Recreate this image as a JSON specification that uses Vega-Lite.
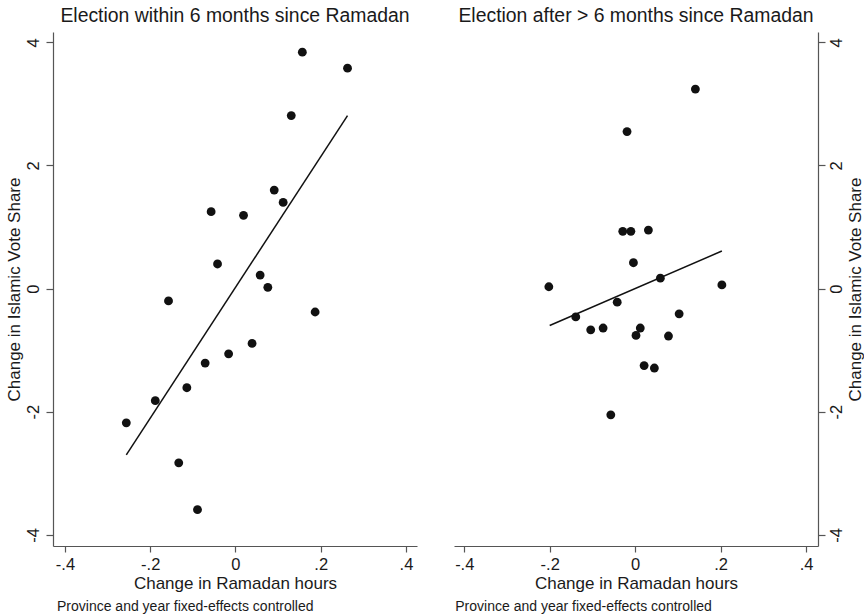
{
  "$schema": "https://vega.github.io/schema/vega-lite/v6.json",
  "background": "white",
  "padding": {"left": 5, "top": 6, "right": 0, "bottom": 5},
  "bounds": "flush",
  "spacing": 37,
  "config": {
    "font": "Liberation Sans",
    "view": {"stroke": null},
    "axis": {
      "grid": false,
      "domainColor": "#555555",
      "domainWidth": 1.2,
      "tickColor": "#555555",
      "tickWidth": 1.2,
      "tickSize": 7,
      "labelFont": "Liberation Sans",
      "titleFont": "Liberation Sans",
      "labelFontSize": 16.5,
      "titleFontSize": 17,
      "labelColor": "#1a1a1a",
      "titleColor": "#1a1a1a",
      "titleFontWeight": "normal"
    },
    "title": {"font": "Liberation Sans", "fontSize": 19.4, "fontWeight": "normal", "color": "#1a1a1a", "anchor": "middle", "offset": 5.5}
  },
  "datasets": {
    "pts": [
      {"panel": "within", "x": 0.157, "y": 3.84},
      {"panel": "within", "x": 0.263, "y": 3.58},
      {"panel": "within", "x": 0.131, "y": 2.81},
      {"panel": "within", "x": 0.091, "y": 1.60},
      {"panel": "within", "x": 0.112, "y": 1.40},
      {"panel": "within", "x": -0.057, "y": 1.25},
      {"panel": "within", "x": 0.019, "y": 1.19},
      {"panel": "within", "x": -0.042, "y": 0.40},
      {"panel": "within", "x": 0.058, "y": 0.22},
      {"panel": "within", "x": 0.076, "y": 0.02},
      {"panel": "within", "x": -0.157, "y": -0.20},
      {"panel": "within", "x": 0.187, "y": -0.38},
      {"panel": "within", "x": 0.039, "y": -0.89},
      {"panel": "within", "x": -0.016, "y": -1.06},
      {"panel": "within", "x": -0.071, "y": -1.21},
      {"panel": "within", "x": -0.114, "y": -1.61},
      {"panel": "within", "x": -0.188, "y": -1.82},
      {"panel": "within", "x": -0.256, "y": -2.18},
      {"panel": "within", "x": -0.133, "y": -2.83},
      {"panel": "within", "x": -0.089, "y": -3.59},
      {"panel": "after", "x": 0.141, "y": 3.24},
      {"panel": "after", "x": -0.019, "y": 2.55},
      {"panel": "after", "x": -0.029, "y": 0.93},
      {"panel": "after", "x": -0.010, "y": 0.93},
      {"panel": "after", "x": 0.031, "y": 0.95},
      {"panel": "after", "x": -0.004, "y": 0.42},
      {"panel": "after", "x": 0.059, "y": 0.17},
      {"panel": "after", "x": -0.202, "y": 0.03},
      {"panel": "after", "x": 0.203, "y": 0.06},
      {"panel": "after", "x": -0.042, "y": -0.22},
      {"panel": "after", "x": -0.139, "y": -0.46},
      {"panel": "after", "x": 0.103, "y": -0.41},
      {"panel": "after", "x": -0.104, "y": -0.67},
      {"panel": "after", "x": -0.075, "y": -0.64},
      {"panel": "after", "x": 0.012, "y": -0.64},
      {"panel": "after", "x": 0.002, "y": -0.76},
      {"panel": "after", "x": 0.078, "y": -0.77},
      {"panel": "after", "x": 0.021, "y": -1.25},
      {"panel": "after", "x": 0.045, "y": -1.29},
      {"panel": "after", "x": -0.057, "y": -2.05}
    ],
    "fit": [
      {"panel": "within", "x": -0.256, "y": -2.70},
      {"panel": "within", "x": 0.263, "y": 2.81},
      {"panel": "after", "x": -0.200, "y": -0.60},
      {"panel": "after", "x": 0.203, "y": 0.61}
    ],
    "note": [
      {"note": "Province and year fixed-effects controlled"}
    ]
  },
  "hconcat": [
    {
      "width": 364,
      "height": 514,
      "title": {"text": "Election within 6 months since Ramadan"},
      "layer": [
        {
          "data": {"name": "pts"},
          "transform": [{"filter": "datum.panel == 'within'"}],
          "mark": {"type": "circle", "size": 78, "opacity": 1, "color": "#111111"},
          "encoding": {
            "x": {
              "field": "x", "type": "quantitative",
              "scale": {"domain": [-0.428, 0.426], "nice": false, "zero": false},
              "axis": {
                "title": "Change in Ramadan hours",
                "values": [-0.4, -0.2, 0, 0.2, 0.4],
                "labelExpr": "datum.value == 0 ? '0' : (datum.value < 0 ? '-' : '') + replace(format(abs(datum.value), '.1f'), '0.', '.')",
                "tickSize": 6,
                "labelPadding": 4,
                "titlePadding": 3,
                "labelFlush": false
              }
            },
            "y": {
              "field": "y", "type": "quantitative",
              "scale": {"domain": [-4.18, 4.167], "nice": false, "zero": false},
              "axis": {
                "title": "Change in Islamic Vote Share",
                "orient": "left",
                "values": [-4, -2, 0, 2, 4],
                "labelExpr": "datum.value < 0 ? '-' + abs(datum.value) : '' + datum.value",
                "labelAngle": 270,
                "labelAlign": "center",
                "labelBaseline": "alphabetic",
                "labelPadding": 8,
                "titlePadding": 2,
                "labelFlush": false
              }
            }
          }
        },
        {
          "data": {"name": "fit"},
          "transform": [{"filter": "datum.panel == 'within'"}],
          "mark": {"type": "line", "color": "#111111", "strokeWidth": 1.5},
          "encoding": {
            "x": {"field": "x", "type": "quantitative"},
            "y": {"field": "y", "type": "quantitative"}
          }
        },
        {
          "data": {"name": "note"},
          "mark": {"type": "text", "align": "left", "baseline": "alphabetic", "fontSize": 14, "color": "#1a1a1a", "font": "Liberation Sans"},
          "encoding": {
            "text": {"field": "note"},
            "x": {"datum": -0.4186},
            "y": {"datum": -5.23}
          }
        }
      ]
    },
    {
      "width": 364,
      "height": 514,
      "title": {"text": "Election after > 6 months since Ramadan"},
      "layer": [
        {
          "data": {"name": "pts"},
          "transform": [{"filter": "datum.panel == 'after'"}],
          "mark": {"type": "circle", "size": 78, "opacity": 1, "color": "#111111"},
          "encoding": {
            "x": {
              "field": "x", "type": "quantitative",
              "scale": {"domain": [-0.424, 0.428], "nice": false, "zero": false},
              "axis": {
                "title": "Change in Ramadan hours",
                "values": [-0.4, -0.2, 0, 0.2, 0.4],
                "labelExpr": "datum.value == 0 ? '0' : (datum.value < 0 ? '-' : '') + replace(format(abs(datum.value), '.1f'), '0.', '.')",
                "tickSize": 6,
                "labelPadding": 4,
                "titlePadding": 3,
                "labelFlush": false
              }
            },
            "y": {
              "field": "y", "type": "quantitative",
              "scale": {"domain": [-4.18, 4.167], "nice": false, "zero": false},
              "axis": {
                "title": "Change in Islamic Vote Share",
                "orient": "right",
                "values": [-4, -2, 0, 2, 4],
                "labelExpr": "datum.value < 0 ? '-' + abs(datum.value) : '' + datum.value",
                "labelAngle": 270,
                "labelAlign": "center",
                "labelBaseline": "top",
                "labelPadding": 3,
                "titleAngle": 270,
                "titleBaseline": "top",
                "titlePadding": 3,
                "labelFlush": false
              }
            }
          }
        },
        {
          "data": {"name": "fit"},
          "transform": [{"filter": "datum.panel == 'after'"}],
          "mark": {"type": "line", "color": "#111111", "strokeWidth": 1.5},
          "encoding": {
            "x": {"field": "x", "type": "quantitative"},
            "y": {"field": "y", "type": "quantitative"}
          }
        },
        {
          "data": {"name": "note"},
          "mark": {"type": "text", "align": "left", "baseline": "alphabetic", "fontSize": 14, "color": "#1a1a1a", "font": "Liberation Sans"},
          "encoding": {
            "text": {"field": "note"},
            "x": {"datum": -0.421},
            "y": {"datum": -5.23}
          }
        }
      ]
    }
  ]
}
